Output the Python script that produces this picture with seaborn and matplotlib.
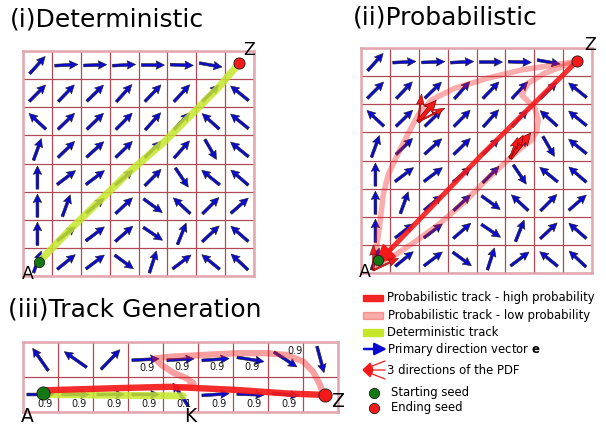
import numpy as np
import matplotlib
matplotlib.use('Agg')
import matplotlib.pyplot as plt
import seaborn as sns

sns.set_theme(style='white')
plt.rcParams['font.family'] = ['DejaVu Sans']
plt.rcParams['text.color'] = 'black'

W, H = 606, 428

# primary direction field (rows listed top to bottom, angle in degrees, None = no arrow)
field_angles = [
    [48, 3, 2, 3, 0, -2, -10, None],
    [45, 46, 44, 48, 46, 47, 45, 141],
    [137, 44, 44, 45, 48, 47, 138, 141],
    [70, 44, 42, 44, 45, 48, -60, 141],
    [90, 37, 37, 40, 45, -56, 141, 139],
    [90, 70, 40, 43, -36, 137, 45, 41],
    [90, 38, 37, 41, -34, 68, 43, 139],
    [70, 39, 37, -36, 72, 37, 141, 137],
]
track_angles = [
    [125, 145, 46, 3, 3, 4, -9, -33, -75],
    [0, 0, 0, 0, 124, 4, -2, -5, None],
]

# (i) deterministic track
det_x = [0.56, 1.62, 3.63, 4.9, 6.75, 7.49]
det_y = [0.51, 1.64, 3.65, 4.78, 6.68, 7.57]
seed1 = (0.56, 0.51)
end1 = (7.49, 7.57)

# (ii) probabilistic tracks
hi_x = [7.49, 4.18, 0.95]
hi_y = [7.54, 4.20, 0.76]
arc_x = [7.46, 6.71, 5.56, 4.4, 3.25, 2.45, 1.98, 1.64, 1.29, 0.94, 0.77, 0.66, 0.54, 0.45]
arc_y = [7.52, 7.4, 7.22, 6.93, 6.57, 6.16, 5.62, 4.97, 4.26, 3.49, 2.78, 1.83, 0.88, 0.15]
loop_x = [7.29, 6.37, 5.79, 5.56, 5.79, 6.02, 6.14, 6.08, 5.91, 5.5, 5.16, 4.4, 3.6, 2.67, 1.87, 1.18, 0.6]
loop_y = [7.46, 7.11, 6.75, 6.33, 6.1, 5.86, 5.44, 5.03, 4.73, 4.4, 4.08, 3.37, 2.54, 1.71, 1.11, 0.64, 0.3]
seed2 = (0.59, 0.45)
end2 = (7.49, 7.54)
fan_main_base = [(1.98, 5.38), (5.16, 4.08)]
fan_main_tip = [(2.60, 6.14), (5.88, 4.98)]
fan_thin_base = [(1.98, 5.38), (1.98, 5.38), (5.16, 4.08), (5.16, 4.08), (0.43, 0.10), (0.43, 0.10)]
fan_thin_tip = [(2.10, 6.36), (2.90, 5.86), (5.62, 4.90), (5.42, 4.82), (0.43, 1.00), (1.30, 0.52)]

# (iii) track generation
det3_x = [0.63, 2.5, 4.58]
det3_y = [0.50, 0.48, 0.46]
hi3_x = [0.63, 2.63, 4.2, 6.1, 7.53, 8.58]
hi3_y = [0.62, 0.68, 0.72, 0.63, 0.53, 0.49]
lo3_x = [8.58, 8.49, 8.29, 8.01, 7.53, 6.96, 6.1, 5.15, 4.2, 3.77, 3.96, 4.3, 4.68, 4.87, 4.72, 4.39]
lo3_y = [0.49, 0.77, 1.15, 1.44, 1.63, 1.68, 1.68, 1.63, 1.58, 1.53, 1.34, 1.12, 0.96, 0.82, 0.72, 0.68]
seed3 = (0.57, 0.54)
end3 = (8.63, 0.49)
prob_labels = [
    ('0.9', 3.55, 1.26), ('0.9', 4.55, 1.28), ('0.9', 5.55, 1.28), ('0.9', 6.55, 1.28), ('0.9', 7.77, 1.73),
    ('0.9', 0.62, 0.24), ('0.9', 1.6, 0.24), ('0.9', 2.6, 0.24), ('0.9', 3.6, 0.24), ('0.1', 4.6, 0.24),
    ('0.9', 5.6, 0.24), ('0.9', 6.6, 0.24), ('0.9', 7.6, 0.24),
]

legend_labels = ['Probabilistic track - high probability', 'Probabilistic track - low probability',
                 'Deterministic track', 'Primary direction vector $\\mathbf{e}$',
                 '3 directions of the PDF', 'Starting seed', 'Ending seed']

BLUE = '#0b0bd0'
RED = '#f51a1a'
PINK_A = 0.36
YEL = '#c6e62a'
GREEN = '#137a13'
GRID_C = '#b04a56'
EDGE_C = '#e2a6ae'


def setup_grid(ax, ncols, nrows):
    ax.set_xlim(0, ncols)
    ax.set_ylim(0, nrows)
    ax.set_xticks(range(ncols + 1))
    ax.set_yticks(range(nrows + 1))
    ax.tick_params(length=0, labelbottom=False, labelleft=False)
    ax.set_xlabel('')
    ax.set_ylabel('')
    ax.grid(True, color=GRID_C, lw=0.9)
    ax.set_axisbelow(True)
    for s in ax.spines.values():
        s.set_color(EDGE_C)
        s.set_linewidth(1.8)


def draw_field(ax, rows, length):
    n = len(rows)
    xs, ys, us, vs = [], [], [], []
    for r, row in enumerate(rows):
        for c, a in enumerate(row):
            if a is None:
                continue
            xs.append(c + 0.5)
            ys.append(n - r - 0.5)
            us.append(np.cos(np.radians(a)))
            vs.append(np.sin(np.radians(a)))
    ax.quiver(xs, ys, us, vs, angles='uv', scale_units='x', scale=1 / length, pivot='middle',
              units='dots', width=2.8, headwidth=3.0, headlength=3.0, headaxislength=2.7,
              color=BLUE, edgecolor='k', linewidth=0.4, zorder=3)


def track(ax, x, y, color, lw, alpha, z):
    sns.lineplot(x=x, y=y, sort=False, estimator=None, color=color, lw=lw, alpha=alpha,
                 solid_capstyle='round', solid_joinstyle='round', ax=ax, zorder=z)


def seed(ax, pt, color, s):
    sns.scatterplot(x=[pt[0]], y=[pt[1]], color=color, s=s, edgecolor='k', linewidth=0.6,
                    ax=ax, zorder=7, clip_on=False)


fig = plt.figure(figsize=(W / 100, H / 100), dpi=100)

# (i)
ax1 = fig.add_axes([23 / W, 1 - 276 / H, 231 / W, 225 / H])
draw_field(ax1, field_angles, 0.8)
track(ax1, det_x, det_y, YEL, 5.2, 0.85, 4)
seed(ax1, seed1, GREEN, 55)
seed(ax1, end1, RED, 65)
setup_grid(ax1, 8, 8)
ax1.text(0.17, 0.07, 'A', fontsize=12.5, ha='center', va='center', clip_on=False)
ax1.text(7.84, 8.05, 'Z', fontsize=12.5, ha='center', va='center', clip_on=False)

# (ii)
ax2 = fig.add_axes([361 / W, 1 - 273 / H, 231 / W, 225 / H])
draw_field(ax2, field_angles, 0.8)
seed(ax2, seed2, GREEN, 55)
track(ax2, arc_x, arc_y, RED, 4.0, PINK_A, 4)
track(ax2, loop_x, loop_y, RED, 4.0, PINK_A, 4)
track(ax2, hi_x, hi_y, RED, 3.6, 0.9, 5)
ax2.annotate('', xy=(0.5, 0.3), xytext=(1.05, 0.86),
             arrowprops=dict(arrowstyle='-|>,head_length=0.9,head_width=0.45', color=RED,
                             lw=2.5, shrinkA=0, shrinkB=0), zorder=6)
mb = np.array(fan_main_base)
mt = np.array(fan_main_tip)
ax2.quiver(mb[:, 0], mb[:, 1], mt[:, 0] - mb[:, 0], mt[:, 1] - mb[:, 1], angles='xy',
           scale_units='xy', scale=1, units='dots', width=3.8, headwidth=3.0, headlength=3.2,
           headaxislength=2.8, color=RED, edgecolor='#7a0000', linewidth=0.5, zorder=6)
tb = np.array(fan_thin_base)
tt = np.array(fan_thin_tip)
ax2.quiver(tb[:, 0], tb[:, 1], tt[:, 0] - tb[:, 0], tt[:, 1] - tb[:, 1], angles='xy',
           scale_units='xy', scale=1, units='dots', width=1.5, headwidth=5, headlength=7,
           headaxislength=6, color=RED, edgecolor='#7a0000', linewidth=0.4, zorder=6)
seed(ax2, end2, RED, 65)
setup_grid(ax2, 8, 8)
ax2.text(0.14, 0.02, 'A', fontsize=12.5, ha='center', va='center', clip_on=False)
ax2.text(7.92, 8.1, 'Z', fontsize=12.5, ha='center', va='center', clip_on=False)

# (iii)
ax3 = fig.add_axes([23 / W, 1 - 412 / H, 315 / W, 70 / H])
draw_field(ax3, track_angles, 0.78)
track(ax3, det3_x, det3_y, YEL, 5.0, 0.85, 4)
track(ax3, lo3_x, lo3_y, RED, 4.5, PINK_A + 0.06, 4)
track(ax3, hi3_x, hi3_y, RED, 4.6, 0.92, 5)
seed(ax3, seed3, GREEN, 90)
seed(ax3, end3, RED, 90)
for t, x, y in prob_labels:
    ax3.text(x, y, t, fontsize=7, ha='center', va='center', color='#111111', zorder=8)
setup_grid(ax3, 9, 2)
ax3.text(0.13, -0.12, 'A', fontsize=13.5, ha='center', va='center', clip_on=False)
ax3.text(4.77, -0.13, 'K', fontsize=13.5, ha='center', va='center', clip_on=False)
ax3.text(9.0, 0.3, 'Z', fontsize=13.5, ha='center', va='center', clip_on=False)

# titles
fig.text(10 / W, 1 - 27 / H, '(i)Deterministic', fontsize=18, va='baseline')
fig.text(353 / W, 1 - 25 / H, '(ii)Probabilistic', fontsize=18, va='baseline')
fig.text(8 / W, 1 - 317 / H, '(iii)Track Generation', fontsize=18, va='baseline')

# legend (pixel coordinates)
lg = fig.add_axes([0, 0, 1, 1])
lg.set_xlim(0, W)
lg.set_ylim(H, 0)
lg.axis('off')
lg.add_patch(plt.Rectangle((363, 294.5), 20, 6.5, color=RED, alpha=0.95))
lg.add_patch(plt.Rectangle((363, 312), 20, 6.5, color=RED, alpha=PINK_A))
lg.add_patch(plt.Rectangle((363, 329), 20, 6.5, color=YEL))
lg.annotate('', xy=(387, 349), xytext=(364, 349),
            arrowprops=dict(arrowstyle='-|>,head_length=0.6,head_width=0.3', color=BLUE, lw=1.8,
                            shrinkA=0, shrinkB=0))
for ty in (361, 370, 379):
    lg.annotate('', xy=(362, 370), xytext=(385, ty),
                arrowprops=dict(arrowstyle='-|>,head_length=0.5,head_width=0.2', color=RED, lw=0.9,
                                shrinkA=0, shrinkB=0))
lg.scatter([374], [393], s=55, color=GREEN, edgecolor='k', linewidth=0.6)
lg.scatter([374], [408], s=55, color=RED, edgecolor='k', linewidth=0.6)
label_pos = [(387, 297.5), (388, 315), (387, 332), (387, 349), (387, 370), (391, 392.5), (391, 408)]
for lab, (x, y) in zip(legend_labels, label_pos):
    lg.text(x, y, lab, fontsize=8.4, va='center', ha='left', color='black')

fig.savefig('out.png', dpi=100)
